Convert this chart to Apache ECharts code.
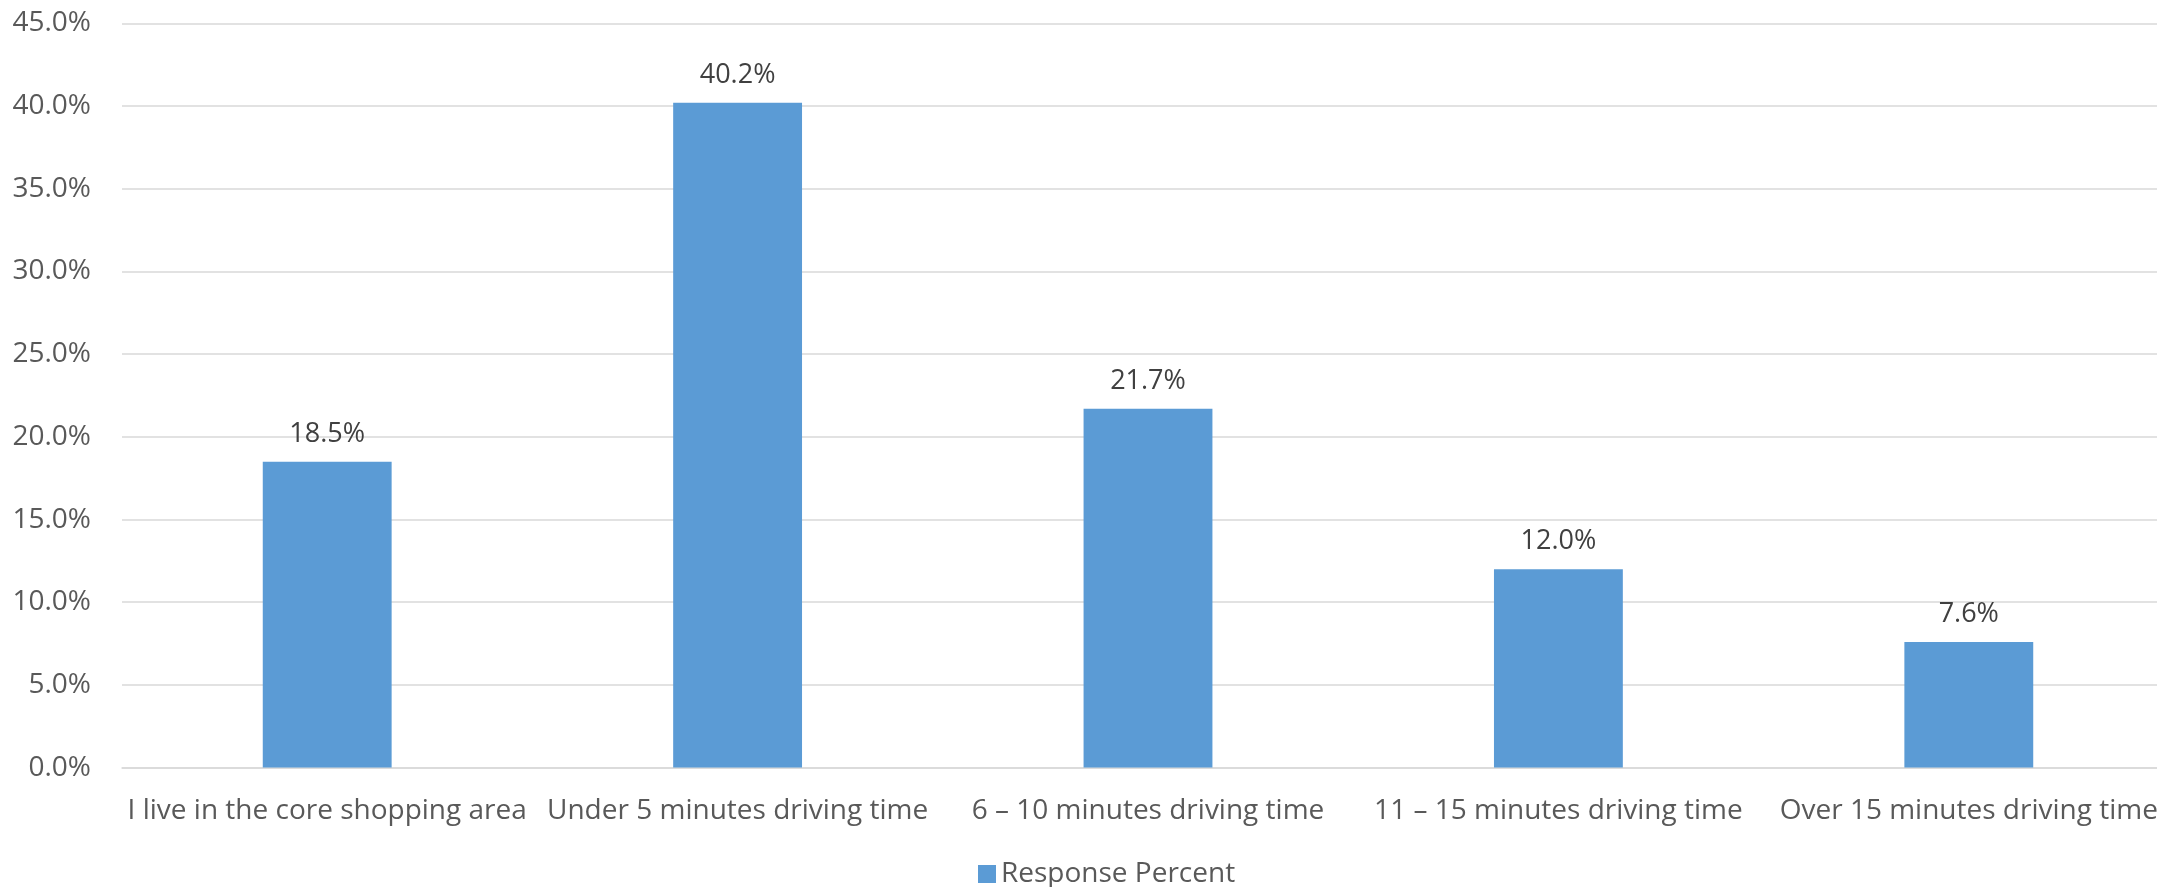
<!DOCTYPE html>
<html>
<head>
<meta charset="utf-8">
<script src="https://cdn.jsdelivr.net/npm/echarts@6/dist/echarts.min.js"></script>
<style>
html,body{margin:0;padding:0;background:#fff;}
#chart{width:2157px;height:887px;}
</style>
</head>
<body>
<div id="chart"></div>
<script>
const categories = [
  "I live in the core shopping area",
  "Under 5 minutes driving time",
  "6 \u2013 10 minutes driving time",
  "11 \u2013 15 minutes driving time",
  "Over 15 minutes driving time"
];
const responsePercent = [18.5, 40.2, 21.7, 12.0, 7.6];
const seriesName = "Response Percent";
const yMin = 0, yMax = 45, yStep = 5;

const FONT = '"Open Sans", sans-serif';
const chart = echarts.init(document.getElementById('chart'), null, {renderer:'canvas'});
chart.setOption({
  animation: false,
  backgroundColor: '#ffffff',
  grid: { left: 122, top: 23.4, width: 2052, height: 744.2, outerBoundsMode: 'none', containLabel: false },
  legend: {
    data: [seriesName],
    left: 973, top: 855,
    itemWidth: 18, itemHeight: 18, itemGap: 10,
    icon: 'rect',
    textStyle: { fontFamily: FONT, fontSize: 28, color: '#595959' }
  },
  xAxis: {
    type: 'category',
    data: categories,
    axisTick: { show: false },
    axisLine: { show: true, lineStyle: { color: '#d9d9d9', width: 1.5 } },
    axisLabel: { interval: 0, margin: 29, fontFamily: FONT, fontSize: 28, color: '#595959' }
  },
  yAxis: {
    type: 'value',
    min: yMin, max: yMax, interval: yStep,
    axisLine: { show: false },
    axisTick: { show: false },
    splitLine: { lineStyle: { color: '#d9d9d9', width: 1.5 } },
    axisLabel: { margin: 31, fontFamily: FONT, fontSize: 28, color: '#595959',
      formatter: v => v.toFixed(1) + '%' }
  },
  series: [{
    name: seriesName,
    type: 'bar',
    data: responsePercent,
    barWidth: '31.4%',
    itemStyle: { color: '#5B9BD5' },
    label: {
      show: true, position: 'top', distance: 14,
      fontFamily: FONT, fontSize: 27, color: '#404040',
      formatter: p => p.value.toFixed(1) + '%'
    }
  }]
});
</script>
</body>
</html>
